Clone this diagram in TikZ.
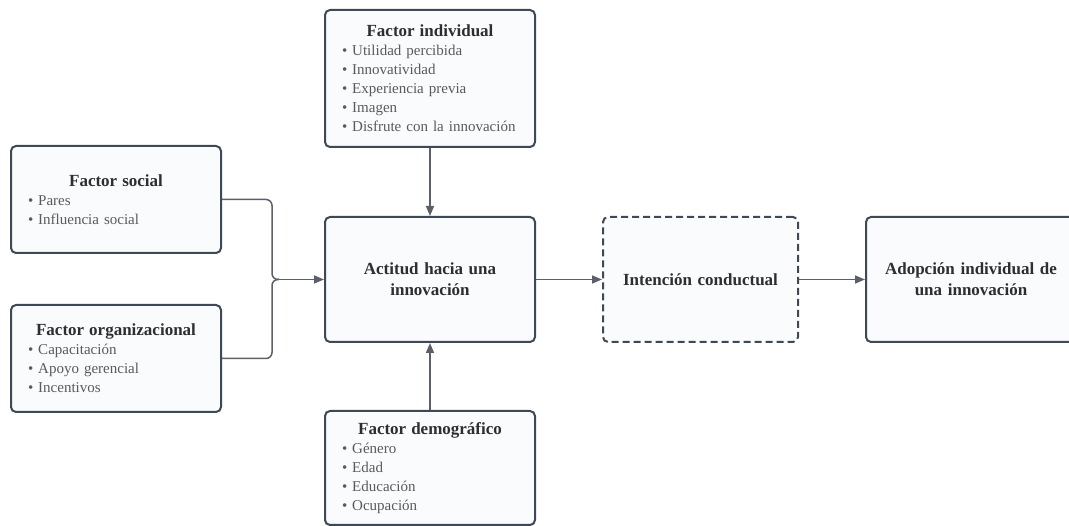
\documentclass[tikz,border=0pt]{standalone}
\usepackage{fontspec}
\setmainfont{Liberation Serif}
\usetikzlibrary{arrows.meta}
\definecolor{boxline}{HTML}{3F4855}
\definecolor{boxfill}{HTML}{F9FBFD}
\definecolor{connc}{HTML}{5B6068}
\definecolor{titlec}{HTML}{2E2E2E}
\definecolor{itemc}{HTML}{5A5A5A}
\tikzset{
 box/.style={draw=boxline, line width=2pt, fill=boxfill, rounded corners=5pt, minimum width=210pt, inner sep=0pt, text=titlec},
 listbox/.style={box, text width=176pt, align=left, font=\fontsize{15}{19}\selectfont},
 mainbox/.style={box, minimum height=125pt, text width=185pt, align=center, font=\fontsize{17}{21}\selectfont\bfseries},
 connline/.style={draw=connc, line width=1.5pt},
 conn/.style={connline, -{Triangle[length=10pt,width=8pt]}},
}
\newcommand{\ttl}[1]{\makebox[\linewidth][c]{\fontsize{17}{21}\selectfont\bfseries #1}}
\newcommand{\itm}[1]{{\color{itemc}•\hspace{5pt}#1}}
\begin{document}
\begin{tikzpicture}[x=1pt,y=-1pt]
\useasboundingbox (0,0) rectangle (1069,526);
\node[listbox, minimum height=107pt] (social) at (116,199.5)
  {\ttl{Factor social}\\ \itm{Pares}\\ \itm{Influencia social}};
\node[listbox, minimum height=107pt] (org) at (116,358.5)
  {\ttl{Factor organizacional}\\ \itm{Capacitación}\\ \itm{Apoyo gerencial}\\ \itm{Incentivos}};
\node[listbox, minimum height=137pt] (indiv) at (430,78.5)
  {\ttl{Factor individual}\\ \itm{Utilidad percibida}\\ \itm{Innovatividad}\\ \itm{Experiencia previa}\\ \itm{Imagen}\\ \itm{Disfrute con la innovación}};
\node[listbox, minimum height=114pt] (demog) at (430,468)
  {\ttl{Factor demográfico}\\ \itm{Género}\\ \itm{Edad}\\ \itm{Educación}\\ \itm{Ocupación}};
\node[mainbox] (actitud) at (430,279.5) {Actitud hacia una\\ innovación};
\node[mainbox, minimum width=195pt, dash pattern=on 7pt off 4pt] (intencion) at (700.5,279.5) {Intención conductual};
\node[mainbox] (adopcion) at (971,279.5) {Adopción individual de\\ una innovación};
\coordinate (j) at (279,279.5);
\draw[connline, rounded corners=6pt] (social.east) -| (272,279.5) -- (j);
\draw[connline, rounded corners=6pt] (org.east) -| (272,279.5) -- (j);
\draw[conn] (j) -- (actitud.west);
\draw[conn] (indiv.south) -- (actitud.north);
\draw[conn] (demog.north) -- (actitud.south);
\draw[conn] (actitud.east) -- (intencion.west);
\draw[conn] (intencion.east) -- (adopcion.west);
\end{tikzpicture}
\end{document}
